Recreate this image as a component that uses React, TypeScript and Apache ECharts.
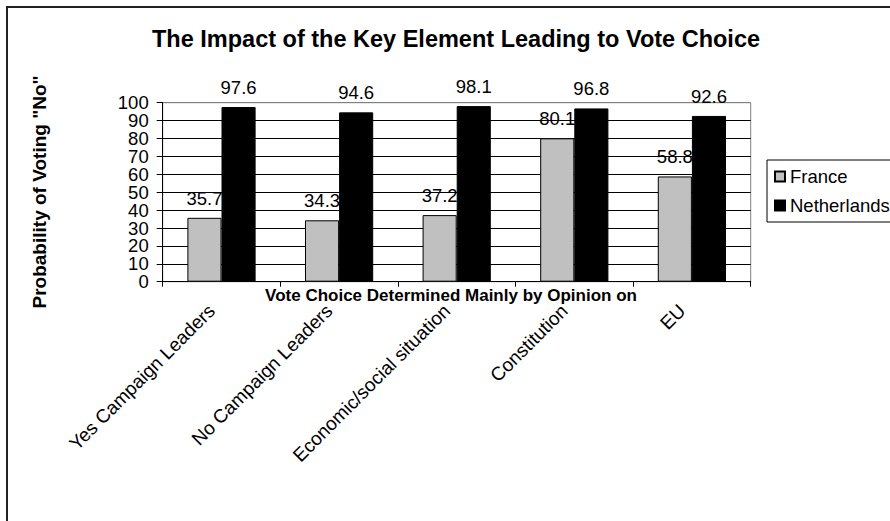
import React, { useEffect, useRef } from "react";
import * as echarts from "echarts";

const categories = [
  "Yes Campaign Leaders",
  "No Campaign Leaders",
  "Economic/social situation",
  "Constitution",
  "EU",
];
const france = [35.7, 34.3, 37.2, 80.1, 58.8];
const netherlands = [97.6, 94.6, 98.1, 96.8, 92.6];
const seriesNames = ["France", "Netherlands"];
const yTicks = [0, 10, 20, 30, 40, 50, 60, 70, 80, 90, 100];
const titleText = "The Impact of the Key Element Leading to Vote Choice";
const yName = 'Probability of Voting "No"';
const xName = "Vote Choice Determined Mainly by Opinion on";

const FONT = "'Liberation Sans', Arial, Helvetica, sans-serif";

export default function App() {
  const ref = useRef<HTMLDivElement>(null);
  useEffect(() => {
    if (!ref.current) return;
    const chart = echarts.init(ref.current, null, { renderer: "svg" });
    const splitColors = yTicks.map((v, i) => (i === yTicks.length - 1 ? "#808080" : "#000"));
    const labelStyle = {
      show: true,
      position: "top",
      distance: 10,
      color: "#000",
      fontSize: 18.5,
      fontFamily: FONT,
    };
    const staticGraphics: any[] = [
      {
        id: "frame",
        type: "rect",
        shape: { x: 7, y: 7, width: 1000, height: 1000 },
        style: { fill: "none", stroke: "#222", lineWidth: 2 },
        silent: true,
      },
      {
        id: "title",
        type: "text",
        x: 456,
        y: 39,
        style: {
          text: titleText,
          fontSize: 23.5,
          fontWeight: "bold",
          fontFamily: FONT,
          fill: "#000",
          align: "center",
          verticalAlign: "middle",
        },
      },
      {
        id: "yname",
        type: "text",
        x: 39,
        y: 192,
        rotation: Math.PI / 2,
        style: {
          text: yName,
          fontSize: 19,
          fontWeight: "bold",
          fontFamily: FONT,
          fill: "#000",
          align: "center",
          verticalAlign: "middle",
        },
      },
      {
        id: "xname",
        type: "text",
        x: 451,
        y: 295,
        z: 10,
        style: {
          text: xName,
          fontSize: 17,
          fontWeight: "bold",
          fontFamily: FONT,
          fill: "#000",
          align: "center",
          verticalAlign: "middle",
        },
      },
    ];
    chart.setOption({
      animation: false,
      backgroundColor: "#fff",
      textStyle: { fontFamily: FONT },
      graphic: staticGraphics,
      legend: {
        orient: "vertical",
        left: 767,
        top: 160,
        itemWidth: 10,
        itemHeight: 10,
        itemGap: 10,
        padding: [7, 24, 7, 7],
        borderColor: "#000",
        borderWidth: 1,
        icon: "rect",
        textStyle: { fontSize: 18.5, color: "#000", fontFamily: FONT },
        data: seriesNames,
      },
      grid: {
        left: 162.7,
        top: 102.7,
        right: 139.3,
        bottom: 239.3,
        show: true,
        borderColor: "#808080",
        borderWidth: 1,
        backgroundColor: "#fff",
      },
      xAxis: {
        type: "category",
        data: categories,
        axisLine: { lineStyle: { color: "#000", width: 1 } },
        axisTick: { show: true, length: 5, lineStyle: { color: "#000" } },
        axisLabel: {
          rotate: 45,
          interval: 0,
          margin: 16,
          padding: [0, 14, 0, 0],
          fontSize: 19,
          color: "#000",
          fontFamily: FONT,
        },
      },
      yAxis: {
        type: "value",
        min: yTicks[0],
        max: yTicks[yTicks.length - 1],
        interval: 10,
        axisLine: { show: true, lineStyle: { color: "#000", width: 1 } },
        axisTick: { show: true, length: 6, lineStyle: { color: "#000" } },
        axisLabel: { show: false },
        splitLine: { show: true, lineStyle: { color: splitColors, width: 1 } },
      },
      series: [
        {
          name: seriesNames[0],
          type: "bar",
          data: france,
          z: 2,
          barGap: "0%",
          barCategoryGap: "42%",
          itemStyle: { color: "#C0C0C0", borderColor: "#000", borderWidth: 1 },
          label: labelStyle,
        },
        {
          name: seriesNames[1],
          type: "bar",
          data: netherlands,
          z: 3,
          barGap: "0%",
          barCategoryGap: "42%",
          itemStyle: { color: "#000", borderColor: "#000", borderWidth: 1 },
          label: labelStyle,
        },
      ],
    });
    const x0 = chart.convertToPixel({ xAxisIndex: 0 }, categories[0]) as number;
    const xAxisLeft = x0 - (chart.convertToPixel({ xAxisIndex: 0 }, categories[1]) as number - x0) / 2;
    const tickLabels = yTicks.map((v, i) => ({
      id: "ytick" + i,
      type: "text",
      x: xAxisLeft - 14,
      y: chart.convertToPixel({ yAxisIndex: 0 }, v) as number,
      style: {
        text: String(v),
        fontSize: 18.5,
        lineHeight: 16,
        fontFamily: FONT,
        fill: "#000",
        align: "right",
        verticalAlign: "middle",
      },
    }));
    chart.setOption({ graphic: [...staticGraphics, ...tickLabels] });
    return () => chart.dispose();
  }, []);
  return (
    <div
      ref={ref}
      style={{ position: "absolute", left: 0, top: 0, width: 890, height: 521 }}
    />
  );
}
